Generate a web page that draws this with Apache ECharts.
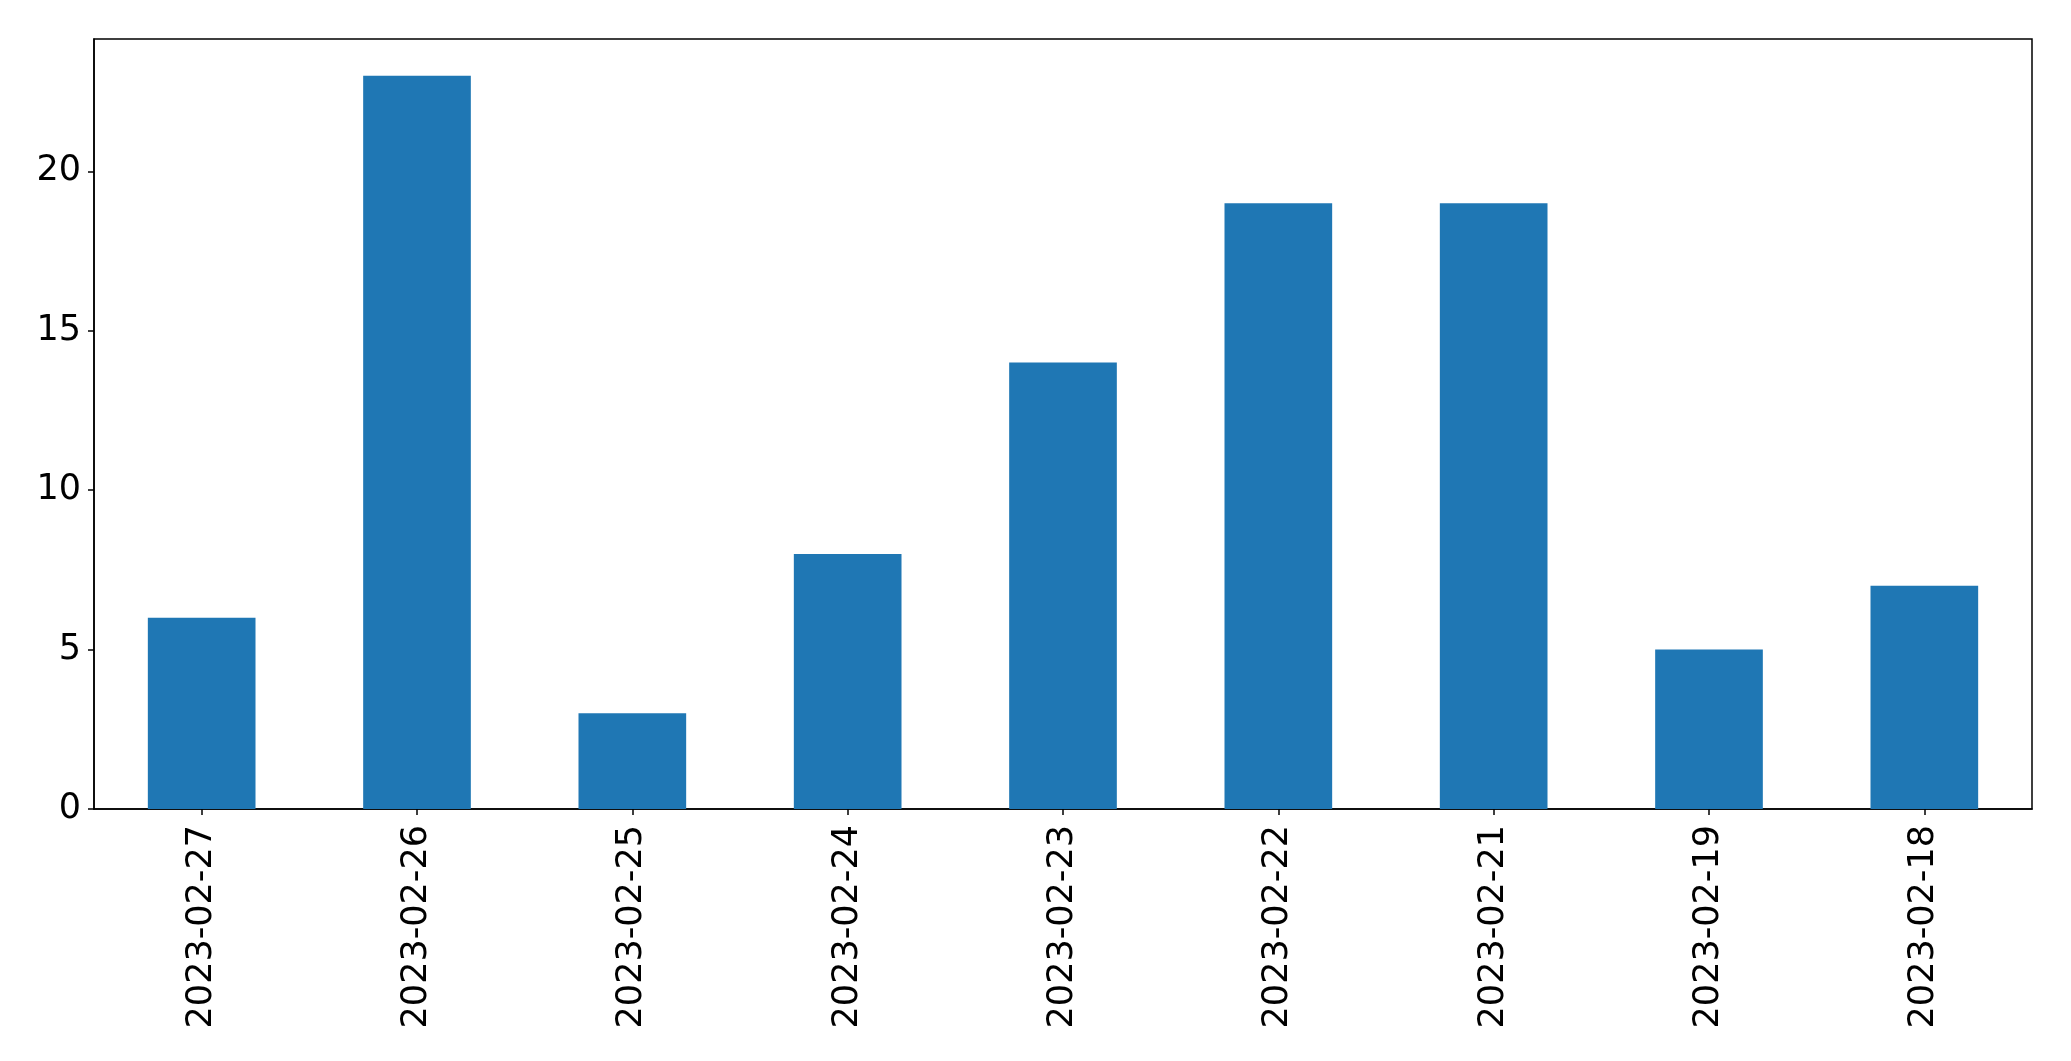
<!DOCTYPE html>
<html><head><meta charset="utf-8">
<script src="https://cdn.jsdelivr.net/npm/echarts@6/dist/echarts.min.js"></script>
<style>html,body{margin:0;padding:0;background:#fff}#c{width:2071px;height:1061px}</style>
</head><body><div id="c"></div>
<script>
const categories = ["2023-02-27","2023-02-26","2023-02-25","2023-02-24","2023-02-23","2023-02-22","2023-02-21","2023-02-19","2023-02-18"];
const values = [6, 23, 3, 8, 14, 19, 19, 5, 7];
const yTicks = [0, 5, 10, 15, 20];

const chart = echarts.init(document.getElementById('c'), null, {renderer: 'canvas'});
const font = 'DejaVu Sans';
chart.setOption({
  animation: false,
  backgroundColor: '#fff',
  grid: {left: 94, right: 39, top: 39, bottom: 252, show: true, borderColor: '#000', borderWidth: 1.5, backgroundColor: 'transparent'},
  xAxis: {
    type: 'category', data: categories,
    axisLine: {show: true, lineStyle: {color: '#000', width: 1.5}},
    axisTick: {show: true, alignWithLabel: true, length: 6, lineStyle: {color: '#000', width: 1.5}},
    axisLabel: {rotate: 90, margin: 16, fontFamily: font, fontSize: 35, color: '#000', interval: 0}
  },
  yAxis: {
    type: 'value', min: 0, max: 24.15, interval: 5,
    splitLine: {show: false},
    axisLine: {show: true, lineStyle: {color: '#000', width: 1.5}},
    axisTick: {show: true, length: 6, lineStyle: {color: '#000', width: 1.5}},
    axisLabel: {margin: 13, fontFamily: font, fontSize: 35, color: '#000', showMaxLabel: false,
      formatter: v => yTicks.includes(v) ? String(v) : ''}
  },
  series: [{type: 'bar', data: values, barWidth: '50%', itemStyle: {color: '#1f77b4'}}]
});
</script></body></html>
